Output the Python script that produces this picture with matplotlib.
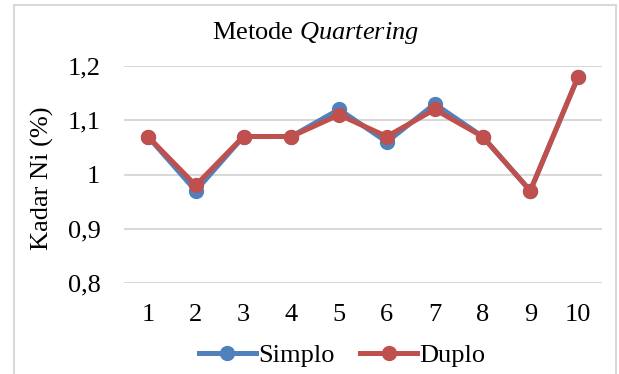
import matplotlib.pyplot as plt
from matplotlib.lines import Line2D

sampel = [1, 2, 3, 4, 5, 6, 7, 8, 9, 10]
simplo = [1.07, 0.97, 1.07, 1.07, 1.12, 1.06, 1.13, 1.07, 0.97, 1.18]
duplo = [1.07, 0.98, 1.07, 1.07, 1.11, 1.07, 1.12, 1.07, 0.97, 1.18]
y_ticks = [0.8, 0.9, 1.0, 1.1, 1.2]
y_labels = ['0,8', '0,9', '1', '1,1', '1,2']

plt.rcParams['font.family'] = ['Liberation Serif', 'DejaVu Serif']
plt.rcParams['mathtext.fontset'] = 'custom'
plt.rcParams['mathtext.rm'] = 'Liberation Serif'
plt.rcParams['mathtext.it'] = 'Liberation Serif:italic'

fig = plt.figure(figsize=(6.19, 3.74), dpi=100)
ax = fig.add_axes([124 / 619, 1 - 283 / 374, 478 / 619, 217 / 374])

ax.plot(sampel, simplo, color='#4F81BD', lw=3.6, marker='o', ms=10, label='Simplo', zorder=3)
ax.plot(sampel, duplo, color='#C0504D', lw=3.6, marker='o', ms=10, label='Duplo', zorder=4)

ax.set_xlim(0.5, 10.5)
ax.set_ylim(0.8, 1.2)
ax.set_xticks(sampel)
ax.set_xticklabels([str(s) for s in sampel])
ax.set_yticks(y_ticks)
ax.set_yticklabels(y_labels)
ax.tick_params(length=0, labelsize=19)
ax.tick_params(axis='x', pad=15)
ax.tick_params(axis='y', pad=17)
ax.grid(axis='y', color='#D9D9D9', lw=1.5)
ax.set_axisbelow(True)
for s in ax.spines.values():
    s.set_visible(False)

ax.set_ylabel('Kadar Ni (%)', fontsize=19)
ax.yaxis.set_label_coords(-0.147, 0.484)
fig.text(0.51, 1 - 33 / 374, 'Metode $\\it{Quartering}$', ha='center', va='center', fontsize=19)

# chart frame
fig.add_artist(Line2D([14 / 619, 14 / 619], [0, 1 - 5 / 374], color='#D9D9D9', lw=1.5))
fig.add_artist(Line2D([616 / 619, 616 / 619], [0, 1 - 5 / 374], color='#D9D9D9', lw=1.5))
fig.add_artist(Line2D([14 / 619, 616 / 619], [1 - 5 / 374, 1 - 5 / 374], color='#D9D9D9', lw=1.5))

fig.legend(loc='center', bbox_to_anchor=(0.553, 1 - 355 / 374), ncol=2, frameon=False,
           fontsize=19, handlelength=2.16, handletextpad=0.1, columnspacing=0.95,
           borderaxespad=0, borderpad=0)

fig.savefig('out.png', dpi=100)
